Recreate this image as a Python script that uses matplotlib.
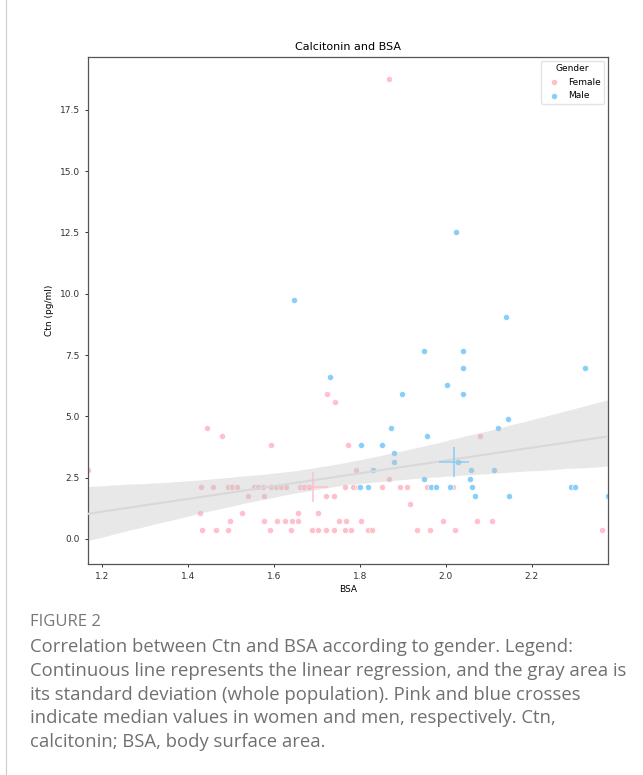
import matplotlib
matplotlib.use('Agg')
import matplotlib.pyplot as plt
import numpy as np
import seaborn as sns

# values
female_bsa = [1.167, 1.443, 1.478, 1.594, 1.773, 1.723, 1.743, 1.869, 2.081, 1.790, 1.868, 1.916,
              1.429, 1.457, 1.492, 1.503, 1.514, 1.553, 1.564, 1.574, 1.594, 1.605, 1.617, 1.628,
              1.660, 1.670, 1.681, 1.765, 1.785, 1.795, 1.852, 1.893, 1.909, 1.957, 2.017,
              1.539, 1.578, 1.722, 1.739,
              1.427, 1.525, 1.656, 1.703,
              1.497, 1.577, 1.606, 1.626, 1.641, 1.656, 1.751, 1.769, 1.803, 1.994, 2.073, 2.109,
              1.433, 1.464, 1.492, 1.591, 1.640, 1.689, 1.703, 1.722, 1.740, 1.766, 1.780, 1.819,
              1.828, 1.934, 1.964, 2.022, 2.363]
female_ctn = [2.80, 4.52, 4.18, 3.84, 3.84, 5.91, 5.57, 18.74, 4.18, 2.81, 2.46, 1.41,
              2.10, 2.10, 2.10, 2.10, 2.10, 2.10, 2.10, 2.10, 2.10, 2.10, 2.10, 2.10,
              2.10, 2.10, 2.10, 2.10, 2.10, 2.10, 2.10, 2.10, 2.10, 2.10, 2.10,
              1.76, 1.76, 1.76, 1.76,
              1.06, 1.06, 1.06, 1.06,
              0.72, 0.72, 0.72, 0.72, 0.72, 0.72, 0.72, 0.72, 0.72, 0.72, 0.72, 0.72,
              0.37, 0.37, 0.37, 0.37, 0.37, 0.37, 0.37, 0.37, 0.37, 0.37, 0.37, 0.37,
              0.37, 0.37, 0.37, 0.37, 0.37]
male_bsa = [1.646, 1.730, 2.023, 2.141, 1.949, 2.040, 2.040, 2.325, 2.002, 1.898,
            2.040, 2.146, 1.872, 2.121, 1.803, 1.851, 1.957, 1.880, 1.880, 2.028,
            1.831, 2.060, 2.112, 1.949, 2.057,
            1.800, 1.819, 1.966, 1.977, 2.011, 2.061, 2.291, 2.301,
            2.068, 2.147, 2.378]
male_ctn = [9.73, 6.61, 12.50, 9.03, 7.65, 7.65, 6.96, 6.96, 6.26, 5.92,
            5.92, 4.88, 4.54, 4.54, 3.84, 3.84, 4.18, 3.49, 3.15, 3.15,
            2.81, 2.81, 2.80, 2.46, 2.46,
            2.10, 2.10, 2.10, 2.10, 2.10, 2.10, 2.10, 2.10,
            1.76, 1.76, 1.76]
median_bsa = [1.690, 2.019]   # female, male
median_ctn = [2.10, 3.15]

caption_lines = [
    "Correlation between Ctn and BSA according to gender. Legend:",
    "Continuous line represents the linear regression, and the gray area is",
    "its standard deviation (whole population). Pink and blue crosses",
    "indicate median values in women and men, respectively. Ctn,",
    "calcitonin; BSA, body surface area.",
]

pink = '#ffc0cb'
blue = '#87cefa'

fig = plt.figure(figsize=(6.43, 7.75), dpi=100)
ax = fig.add_axes([88 / 643, 1 - 564 / 775, 520 / 643, 507 / 775])

ax.scatter(female_bsa, female_ctn, s=20, color=pink, edgecolor='white', linewidth=0.5, label='Female', zorder=2)
ax.scatter(male_bsa, male_ctn, s=20, color=blue, edgecolor='white', linewidth=0.5, label='Male', zorder=2)

all_bsa = np.array(female_bsa + male_bsa)
all_ctn = np.array(female_ctn + male_ctn)
xmin, xmax = all_bsa.min(), all_bsa.max()
ax.set_xlim(xmin, xmax)
sns.regplot(x=all_bsa, y=all_ctn, scatter=False, ax=ax, color='gray', seed=3,
            line_kws={'color': '#d8d8d8', 'linewidth': 1.5, 'zorder': 3})
# darker, semi-transparent band so the points below still show through
for coll in ax.collections[2:]:
    coll.set_facecolor('#c4c4c4')
    coll.set_alpha(0.38)
    coll.set_zorder(2.5)
ax.set_xlim(xmin, xmax)
ax.set_ylim(-1.02, 19.65)

ax.plot(median_bsa[0], median_ctn[0], marker='+', ms=21, mew=1.1, color=pink, zorder=4)
ax.plot(median_bsa[1], median_ctn[1], marker='+', ms=21, mew=1.1, color=blue, zorder=4)

ax.set_xticks([1.2, 1.4, 1.6, 1.8, 2.0, 2.2])
ax.set_yticks([0, 2.5, 5, 7.5, 10, 12.5, 15, 17.5])
ax.tick_params(labelsize=6.5, length=2.5, width=0.7, colors='#333333')
ax.set_xlabel('BSA', fontsize=6.5, labelpad=3)
ax.set_ylabel('Ctn (pg/ml)', fontsize=6.5, labelpad=4)
ax.set_title('Calcitonin and BSA', fontsize=8, pad=5)
for sp in ax.spines.values():
    sp.set_color('#555555')
    sp.set_linewidth(0.9)

leg = ax.legend(title='Gender', loc='upper right', fontsize=6.5, title_fontsize=6.5,
                frameon=True, borderaxespad=0.4, handletextpad=0.6, markerscale=1.0)
leg.get_frame().set_edgecolor('#dddddd')

# page border on the left
fig.add_artist(plt.Line2D([6 / 643, 6 / 643], [0, 1], color='#cccccc', linewidth=0.8))

fig.text(30 / 643, 1 - 622 / 775, 'FIGURE 2', fontsize=12, color='#777777',
         family='Open Sans', va='center')
for i, line in enumerate(caption_lines):
    fig.text(30 / 643, 1 - (647 + 23.8 * i) / 775, line, fontsize=13.3, color='#707070',
             family='Open Sans', va='center')

fig.savefig('out.png', dpi=100)
